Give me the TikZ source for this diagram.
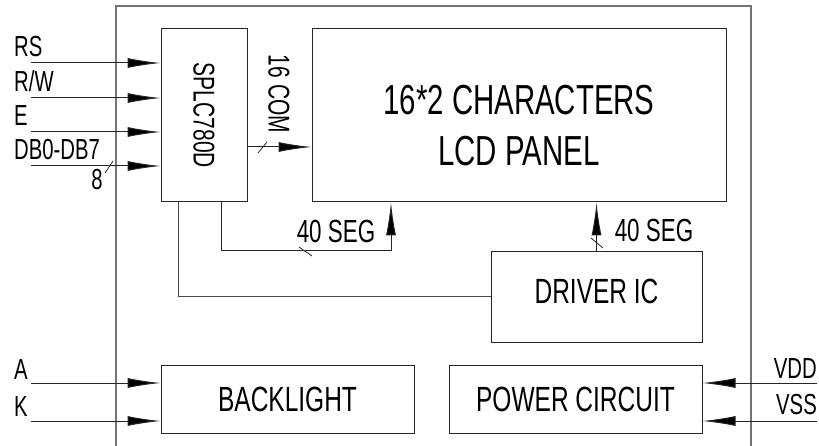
\documentclass[tikz,border=0pt]{standalone}
\usepackage{fontspec}
\setmainfont{Liberation Sans}[FakeStretch=0.7]
\usepackage{tikz}
\usetikzlibrary{arrows.meta, positioning}
\tikzstyle{blok} = [draw=black!85, line width=1pt, rectangle, inner sep=0pt]
\tikzstyle{pin} = [font=\fontsize{29}{34}\selectfont, inner sep=0pt]
\tikzstyle{sig} = [draw=black!85, line width=1pt, -{Latex[length=33pt,width=10pt,fill=black]}]
\tikzstyle{wire} = [draw=black!70, line width=1pt]
\tikzstyle{bus} = [draw=black!85, line width=0.8pt]

\begin{document}
\begin{tikzpicture}[x=1pt, y=-1pt]
	\useasboundingbox (0,0) rectangle (819,446);
	\draw[draw=black!55, line width=1.4pt] (116,470) -- (116,6) -- (751,6) -- (751,470);
	\node[blok, minimum width=86pt, minimum height=173pt, font=\fontsize{30}{36}\selectfont] (ctrl) at (204,115.5) {\rotatebox{-90}{SPLC780D}};
	\node[blok, minimum width=414pt, minimum height=173pt, align=center, font=\fontsize{42}{51}\selectfont] (lcd) at (519,115.5) {\rule{0pt}{50pt}16*2 CHARACTERS\\LCD PANEL};
	\node[blok, minimum width=211pt, minimum height=90pt, font=\fontsize{35}{42}\selectfont] (drv) at (596.5,297) {\rule[-12pt]{0pt}{12pt}DRIVER IC};
	\node[blok, minimum width=253pt, minimum height=68pt, font=\fontsize{35}{42}\selectfont] (bl) at (287.5,399) {BACKLIGHT};
	\node[blok, minimum width=253pt, minimum height=68pt, font=\fontsize{35}{42}\selectfont] (pwr) at (575.5,399) {POWER CIRCUIT};

	\coordinate (rs) at (31,63);
	\coordinate (rw) at (31,98);
	\coordinate (en) at (31,132);
	\coordinate (db) at (31,166);
	\coordinate (an) at (31,383);
	\coordinate (ka) at (31,421);
	\coordinate (vdd) at (817,383);
	\coordinate (vss) at (817,421);
	\coordinate (com) at (0,147);
	\coordinate (s1) at (221,251);
	\coordinate (s2) at (391,251);
	\coordinate (c1) at (178,297);

	\draw[sig] (rs) -- (rs -| ctrl.west);
	\draw[sig] (rw) -- (rw -| ctrl.west);
	\draw[sig] (en) -- (en -| ctrl.west);
	\draw[sig] (db) -- (db -| ctrl.west);
	\draw[sig] (an) -- (an -| bl.west);
	\draw[sig] (ka) -- (ka -| bl.west);
	\draw[sig] (vdd) -- (vdd -| pwr.east);
	\draw[sig] (vss) -- (vss -| pwr.east);
	\draw[sig] (ctrl.east |- com) -- (lcd.west |- com);
	\draw[sig] (s1 |- ctrl.south) -- (s1) -- (s2) -- (s2 |- lcd.south);
	\draw[sig] (drv.north) -- (drv.north |- lcd.south);
	\draw[wire] (c1 |- ctrl.south) -- (c1) -- (c1 -| drv.west);

	\draw[bus] (105,173) -- (113,161);
	\draw[bus] (258,153) -- (267,142);
	\draw[bus] (299,247) -- (312,256);
	\draw[bus] (591,238) -- (603,248);

	\node[pin, anchor=base west] (lrs) at (14,57) {RS};
	\node[pin, anchor=base west] (lrw) at (14,92) {R/W};
	\node[pin, anchor=base west] (len) at (14,126) {E};
	\node[pin, anchor=base west] (ldb) at (14,160) {DB0-DB7};
	\node[pin, anchor=base] (lbits) at (97,190) {8};
	\node[pin, anchor=base west] (lan) at (14,379) {A};
	\node[pin, anchor=base west] (lka) at (14,416) {K};
	\node[pin, anchor=base east] (lvdd) at (817,378) {VDD};
	\node[pin, anchor=base east] (lvss) at (817,414) {VSS};
	\node[pin, rotate=-90, font=\fontsize{30}{36}\selectfont] (lcom) at (279,94) {16 COM};
	\node[pin, font=\fontsize{32}{38}\selectfont] (lseg1) at (336,231) {40 SEG};
	\node[pin, font=\fontsize{32}{38}\selectfont] (lseg2) at (654,230) {40 SEG};
\end{tikzpicture}
\end{document}
